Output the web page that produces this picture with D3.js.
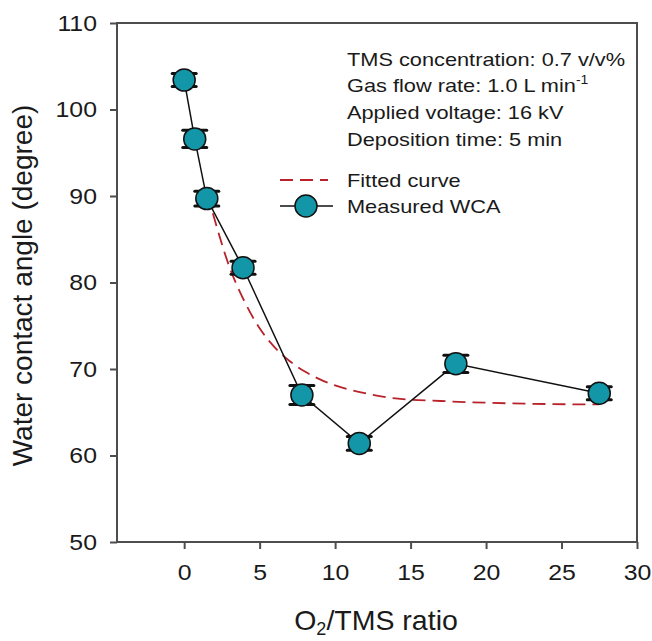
<!DOCTYPE html>
<html>
<head>
<meta charset="utf-8">
<script src="https://cdn.jsdelivr.net/npm/d3@7"></script>
<style>
  html, body { margin: 0; padding: 0; background: #fff; }
  text { font-family: "Liberation Sans", Arial, Helvetica, sans-serif; fill: #1a1a1a; }
</style>
</head>
<body>
<svg id="chart" width="652" height="641"></svg>
<script>
// ---- data ----
const ratio = [0, 0.7, 1.5, 3.9, 7.8, 11.6, 18.0, 27.5];
const wca   = [103.4, 96.6, 89.7, 81.7, 67.0, 61.4, 70.6, 67.2];
const wcaErr = [0.75, 1.0, 0.85, 0.75, 1.1, 0.8, 1.0, 0.75];

const fitX = [1.9, 3, 4, 5, 6, 7, 8, 9, 10, 12, 14, 17, 20, 24, 27.5];
const fitY = [88.0, 81.8, 77.8, 74.7, 72.5, 70.9, 69.7, 68.8, 68.1, 67.2, 66.6, 66.3, 66.1, 65.95, 65.9];

const xTicks = [0, 5, 10, 15, 20, 25, 30];
const yTicks = [50, 60, 70, 80, 90, 100, 110];

const notes = ["TMS concentration: 0.7 v/v%", "Gas flow rate: 1.0 L min", "Applied voltage: 16 kV", "Deposition time: 5 min"];
const legendLabels = ["Fitted curve", "Measured WCA"];

// ---- layout ----
const W = 652, H = 641;
const m = { left: 117, top: 23, right: 15, bottom: 99 };
const iw = W - m.left - m.right, ih = H - m.top - m.bottom;
const teal = "#1397a8", red = "#b8232b", axisCol = "#4d4d4d";
const sx = 1.13; // horizontal stretch of the reference's lettering

const svg = d3.select("#chart");
const g = svg.append("g").attr("transform", `translate(${m.left},${m.top})`);

const x = d3.scaleLinear().domain([-4.45, 30]).range([0, iw]);
const y = d3.scaleLinear().domain([50, 110]).range([ih, 0]);

// axes
const xAxis = g.append("g").attr("transform", `translate(0,${ih})`)
  .call(d3.axisBottom(x).tickValues(xTicks).tickSize(7).tickPadding(15).tickSizeOuter(0));
const yAxis = g.append("g")
  .call(d3.axisLeft(y).tickValues(yTicks).tickSize(7).tickPadding(13).tickSizeOuter(0));
[xAxis, yAxis].forEach(a => {
  a.select(".domain").remove();
  a.selectAll(".tick line").attr("stroke", axisCol).attr("stroke-width", 2);
  a.selectAll(".tick text").attr("font-size", 22).attr("fill", "#1a1a1a")
    .style("font-family", '"Liberation Sans", Arial, sans-serif');
});
xAxis.selectAll(".tick text").each(function() {
  d3.select(this).attr("transform", `scale(${sx},1)`);
});
yAxis.selectAll(".tick text").each(function() {
  const t = d3.select(this);
  t.attr("transform", `scale(${sx},1)`).attr("x", -20 / sx);
});

// frame
g.append("rect").attr("x", 0).attr("y", 0).attr("width", iw).attr("height", ih)
  .attr("fill", "none").attr("stroke", axisCol).attr("stroke-width", 2);

// fitted curve
const fitData = fitX.map((v, i) => [v, fitY[i]]);
g.append("path").datum(fitData)
  .attr("d", d3.line().x(d => x(d[0])).y(d => y(d[1])).curve(d3.curveMonotoneX))
  .attr("fill", "none").attr("stroke", red).attr("stroke-width", 1.8)
  .attr("stroke-dasharray", "13,7");

// measured line
const pts = ratio.map((v, i) => ({ x: v, y: wca[i], e: wcaErr[i] }));
g.append("path").datum(pts)
  .attr("d", d3.line().x(d => x(d.x)).y(d => y(d.y)))
  .attr("fill", "none").attr("stroke", "#111").attr("stroke-width", 1.5);

// error bars
const eb = g.append("g").selectAll("g").data(pts).join("g");
eb.append("line").attr("x1", d => x(d.x)).attr("x2", d => x(d.x))
  .attr("y1", d => y(d.y + d.e)).attr("y2", d => y(d.y - d.e))
  .attr("stroke", "#111").attr("stroke-width", 1.5);
eb.append("line").attr("x1", d => x(d.x) - 12).attr("x2", d => x(d.x) + 12)
  .attr("y1", d => y(d.y + d.e)).attr("y2", d => y(d.y + d.e))
  .attr("stroke", "#111").attr("stroke-width", 3).attr("stroke-linecap", "round");
eb.append("line").attr("x1", d => x(d.x) - 12).attr("x2", d => x(d.x) + 12)
  .attr("y1", d => y(d.y - d.e)).attr("y2", d => y(d.y - d.e))
  .attr("stroke", "#111").attr("stroke-width", 3).attr("stroke-linecap", "round");

// markers
g.append("g").selectAll("circle").data(pts).join("circle")
  .attr("cx", d => x(d.x)).attr("cy", d => y(d.y)).attr("r", 11)
  .attr("fill", teal).attr("stroke", "#111").attr("stroke-width", 1.5);

// annotation
const noteBase = [65.5, 92.2, 118.9, 145.6];
notes.forEach((s, i) => {
  const t = svg.append("text")
    .attr("transform", `translate(347,${noteBase[i]}) scale(1.17,1)`)
    .attr("font-size", 18.6).text(s);
  if (i === 1) {
    t.append("tspan").attr("font-size", 12).attr("dy", -8).text("-1");
  }
});

// legend
const legBase = [187, 213];
svg.append("line").attr("x1", 280).attr("x2", 328).attr("y1", 180).attr("y2", 180)
  .attr("stroke", red).attr("stroke-width", 1.8).attr("stroke-dasharray", "13,7");
svg.append("line").attr("x1", 280).attr("x2", 333).attr("y1", 206).attr("y2", 206)
  .attr("stroke", "#111").attr("stroke-width", 1.5);
svg.append("circle").attr("cx", 306).attr("cy", 206).attr("r", 11)
  .attr("fill", teal).attr("stroke", "#111").attr("stroke-width", 1.5);
legendLabels.forEach((s, i) => {
  svg.append("text").attr("transform", `translate(347,${legBase[i]}) scale(1.17,1)`)
    .attr("font-size", 18.6).text(s);
});

// axis titles
svg.append("text")
  .attr("transform", `translate(32,${m.top + ih / 2 + 3}) rotate(-90)`)
  .attr("text-anchor", "middle").attr("font-size", 28)
  .text("Water contact angle (degree)");
const xt = svg.append("text").attr("x", 376).attr("y", 630)
  .attr("text-anchor", "middle").attr("font-size", 28.5);
xt.append("tspan").text("O");
xt.append("tspan").attr("font-size", 18).attr("dy", 5).text("2");
xt.append("tspan").attr("dy", -5).text("/TMS ratio");
</script>
</body>
</html>
